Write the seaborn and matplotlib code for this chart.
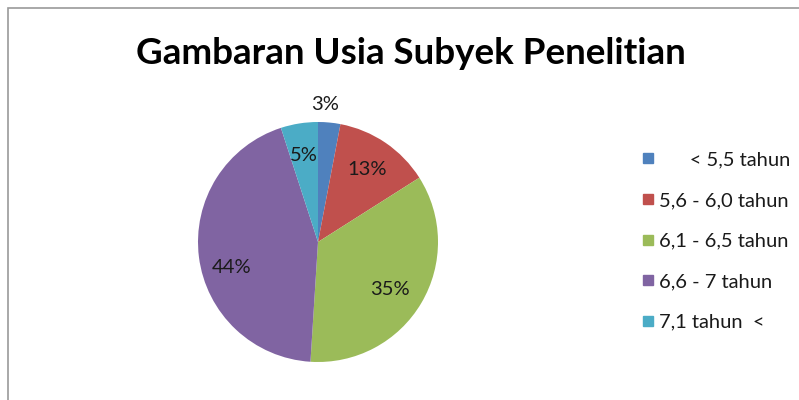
import matplotlib
matplotlib.use("Agg")
import matplotlib.pyplot as plt
import matplotlib.patches as mpatches
from matplotlib.lines import Line2D
import numpy as np
import seaborn as sns

categories = ["      < 5,5 tahun", "5,6 - 6,0 tahun", "6,1 - 6,5 tahun", "6,6 - 7 tahun", "7,1 tahun  <"]
values = [3, 13, 35, 44, 5]
colors = ["#4F81BD", "#C0504D", "#9BBB59", "#8064A2", "#4BACC6"]
title = "Gambaran Usia Subyek Penelitian"

sns.set_theme(style="white")
plt.rcParams["font.family"] = ["Lato", "DejaVu Sans"]

W, H = 799, 400
fig = plt.figure(figsize=(W / 100, H / 100), dpi=100)
fig.patch.set_facecolor("white")

# chart border
fig.patches.append(mpatches.Rectangle((8 / W, -0.1), 1.2, 1.1 - 8 / H,
                                      transform=fig.transFigure, fill=False,
                                      edgecolor="#9a9a9a", lw=1.2, clip_on=False))

fig.text(411 / W, 1 - 53 / H, title, ha="center", va="center",
         fontsize=26.5, fontweight="bold", color="#000000")

cx, cy, r = 318, 242, 120
ax = fig.add_axes([(cx - r) / W, (H - cy - r) / H, 2 * r / W, 2 * r / H])
wedges, texts, autotexts = ax.pie(values, colors=colors, startangle=90, counterclock=False,
                                  autopct="%d%%", pctdistance=0.73, radius=1,
                                  wedgeprops=dict(linewidth=0),
                                  textprops=dict(fontsize=14.5, color="#1a1a1a"))
# move the tiny first slice label outside
w0 = wedges[0]
ang = np.deg2rad((w0.theta1 + w0.theta2) / 2 + 2.5)
autotexts[0].set_position((1.15 * np.cos(ang), 1.15 * np.sin(ang)))
# the green slice label sits slightly lower in the reference
w2 = wedges[2]
ang2 = np.deg2rad((w2.theta1 + w2.theta2) / 2 - 3)
autotexts[2].set_position((0.72 * np.cos(ang2), 0.72 * np.sin(ang2)))
# the large slice label sits slightly lower in the reference
w3 = wedges[3]
ang3 = np.deg2rad((w3.theta1 + w3.theta2) / 2 + 9)
autotexts[3].set_position((0.75 * np.cos(ang3), 0.75 * np.sin(ang3)))
ax.set_xlim(-1, 1)
ax.set_ylim(-1, 1)
ax.set_aspect("equal")
ax.axis("off")

handles = [Line2D([0], [0], marker="s", linestyle="none", markersize=7.5,
                  markerfacecolor=c, markeredgecolor=c) for c in colors]
leg = fig.legend(handles, categories, loc="center left", bbox_to_anchor=(632 / W, 1 - 241 / H),
                 frameon=False, fontsize=14.5, labelspacing=1.17, handlelength=0.55,
                 handletextpad=0.3, borderpad=0)
for t in leg.get_texts():
    t.set_color("#1a1a1a")

fig.savefig("out.png", dpi=100, facecolor="white")
